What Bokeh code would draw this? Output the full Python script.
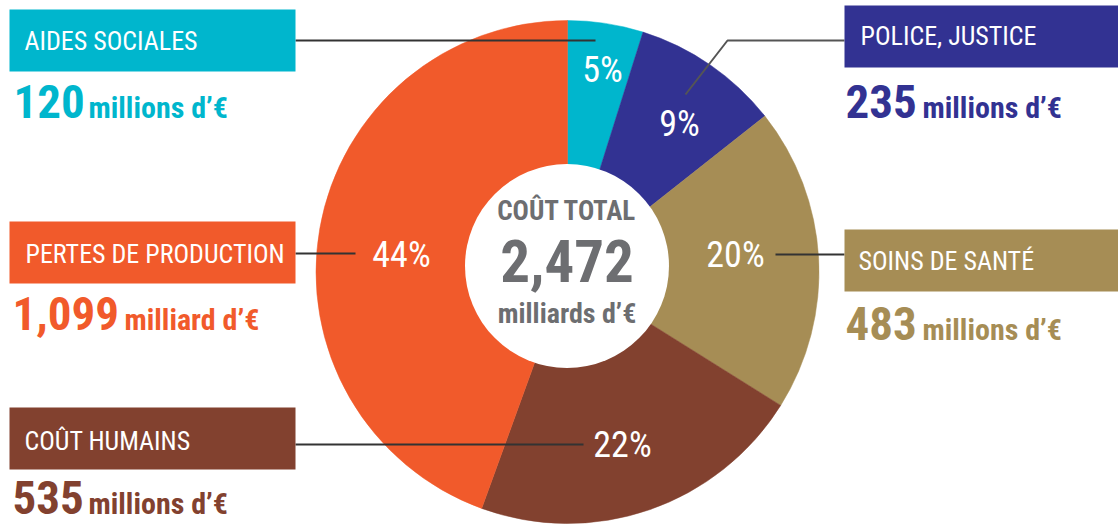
import numpy as np
from bokeh.plotting import figure
from bokeh.models import Range1d, ColumnDataSource
from bokeh.core.properties import value
from bokeh.embed import file_html
from bokeh.resources import INLINE

W, H = 1118, 525

# ---------------- data ----------------
categories = ["AIDES SOCIALES", "POLICE, JUSTICE", "SOINS DE SANTÉ", "COÛT HUMAINS", "PERTES DE PRODUCTION"]
values_meur = [120, 235, 483, 535, 1099]
pct_labels = ["5%", "9%", "20%", "22%", "44%"]
value_labels = ["120", "235", "483", "535", "1,099"]
unit_labels = ["millions d’€", "millions d’€", "millions d’€", "millions d’€", "milliard d’€"]
colors = ["#00B6CD", "#323292", "#A68D55", "#82412F", "#F15A2B"]
total_title = "COÛT TOTAL"
total_label = "2,472"
total_unit = "milliards d’€"

# ---------------- layout (pixel coords, y down) ----------------
FONT = "Roboto Condensed"
GRAY = "#6D6E71"
cx, cy, R = 567, 271.5, 251.5
hx, hy, HR = 566.5, 265.5, 102

box_l = [9, 844, 844, 9, 9]
box_r = [295, 1118, 1118, 295, 295]
box_t = [9, 5, 229, 407, 221]
box_b = [71, 67, 291, 469, 283]
lab_x = [24, 860, 858, 24, 25]
lab_base = [50, 45, 270, 450, 263]
val_x = [13, 845, 845, 12, 12]
val_base = [118, 118, 340, 514, 330]
unit_x = [88, 922, 922, 88, 124]
pct_x = [602, 679, 735, 622, 401]
pct_base = [83, 137, 268, 458, 268]
leaders = [
    [(295, 40), (595, 40)],
    [(844, 40), (727, 40), (685, 94)],
    [(844, 254), (775, 254)],
    [(295, 444), (583, 444)],
    [(295, 253), (355, 253)],
]
leader_colors = ["#333333", "#555555", "#333333", "#333333", "#333333"]

LAB_FS, PCT_FS, VAL_FS, UNIT_FS = 26, 36, 47, 30
TT_FS, TOT_FS, TU_FS = 27, 59, 28
SHIFT = 0.37  # baseline correction (fraction of font size)


def Y(y):
    return H - y


def YT(base, fs):
    return H - (base - SHIFT * fs)


p = figure(width=W, height=H, x_range=Range1d(0, W), y_range=Range1d(0, H),
           output_backend="svg", toolbar_location=None, min_border=0,
           x_axis_location=None, y_axis_location=None)
p.grid.visible = False
p.outline_line_color = None
p.background_fill_color = "white"
p.border_fill_color = "white"

# wedges from values
vals = np.array(values_meur, dtype=float)
total = vals.sum()
cum = np.concatenate([[0], np.cumsum(vals)])
start = np.pi / 2 - 2 * np.pi * cum[:-1] / total
end = np.pi / 2 - 2 * np.pi * cum[1:] / total
wsrc = ColumnDataSource(dict(start=start, end=end, color=colors))
p.annular_wedge(x=cx, y=Y(cy), inner_radius=0, outer_radius=R,
                start_angle="start", end_angle="end", direction="clock",
                fill_color="color", line_color="color", line_width=0.5, source=wsrc)

# centre hole
p.scatter(x=[hx], y=[Y(hy)], size=2 * HR, marker="circle", fill_color="white", line_color=None)

# leader lines
for pts, lc in zip(leaders, leader_colors):
    p.line([q[0] for q in pts], [Y(q[1]) for q in pts], line_color=lc, line_width=2)

# percent labels
p.text(x=pct_x, y=[YT(v, PCT_FS) for v in pct_base], text=pct_labels, text_color="white",
       text_font=value(FONT), text_font_size=f"{PCT_FS}px", text_align="center",
       text_baseline="alphabetic")

# category boxes
p.quad(left=box_l, right=box_r, top=[Y(v) for v in box_t], bottom=[Y(v) for v in box_b],
       fill_color=colors, line_color=None)
p.text(x=lab_x, y=[YT(v, LAB_FS) for v in lab_base], text=categories, text_color="white",
       text_font=value(FONT), text_font_size=f"{LAB_FS}px", text_align="left",
       text_baseline="alphabetic")

# values
p.text(x=val_x, y=[YT(v, VAL_FS) for v in val_base], text=value_labels, text_color=colors,
       text_font=value(FONT), text_font_size=f"{VAL_FS}px", text_font_style="bold",
       text_align="left", text_baseline="alphabetic")
p.text(x=unit_x, y=[YT(v, UNIT_FS) for v in val_base], text=unit_labels, text_color=colors,
       text_font=value(FONT), text_font_size=f"{UNIT_FS}px", text_font_style="bold",
       text_align="left", text_baseline="alphabetic")

# centre texts
p.text(x=[hx], y=[YT(220, TT_FS)], text=[total_title], text_color=GRAY, text_font=value(FONT),
       text_font_size=f"{TT_FS}px", text_font_style="bold", text_align="center",
       text_baseline="alphabetic")
p.text(x=[hx], y=[YT(282, TOT_FS)], text=[total_label], text_color=GRAY, text_font=value(FONT),
       text_font_size=f"{TOT_FS}px", text_font_style="bold", text_align="center",
       text_baseline="alphabetic")
p.text(x=[hx], y=[YT(323, TU_FS)], text=[total_unit], text_color=GRAY, text_font=value(FONT),
       text_font_size=f"{TU_FS}px", text_font_style="bold", text_align="center",
       text_baseline="alphabetic")

open("out.html", "w").write(file_html(p, INLINE))
